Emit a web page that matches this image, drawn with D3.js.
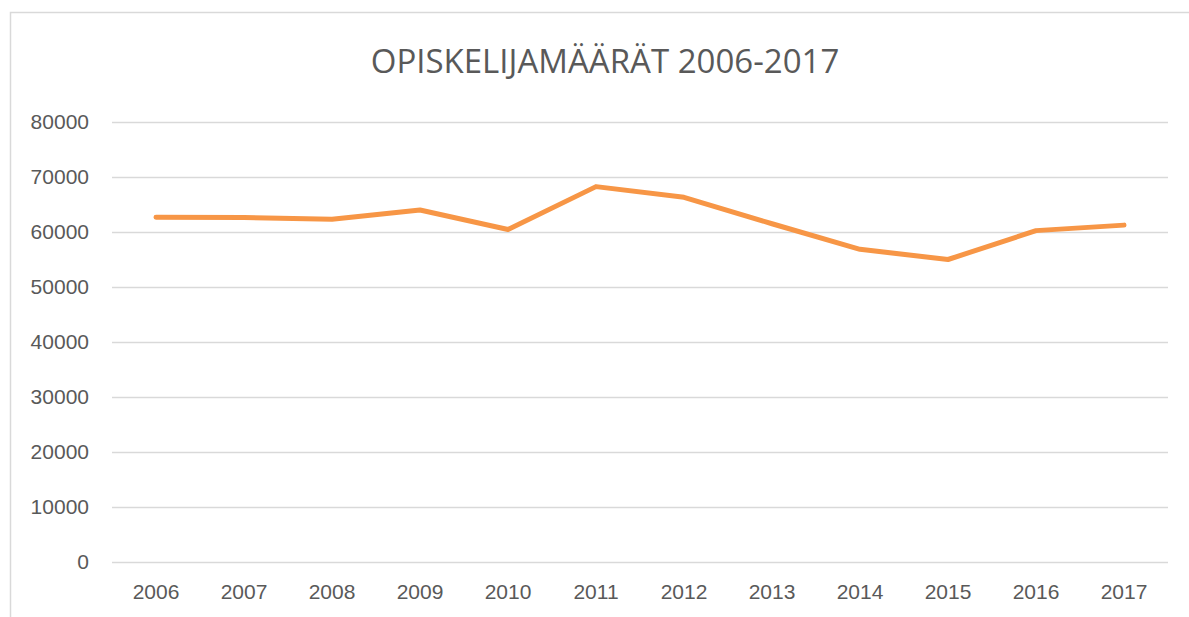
<!DOCTYPE html>
<html>
<head>
<meta charset="utf-8">
<script src="https://cdn.jsdelivr.net/npm/d3@7"></script>
<style>
  body { margin: 0; background: #fff; }
  svg { display: block; font-family: "Open Sans", sans-serif; }
</style>
</head>
<body>
<script>
const width = 1189,
  height = 617;

const years = ['2006', '2007', '2008', '2009', '2010', '2011', '2012', '2013', '2014', '2015', '2016', '2017'];
const students = [62700, 62650, 62300, 64000, 60450, 68250, 66300, 61500, 56850, 55000, 60250, 61250];
const yTicks = [0, 10000, 20000, 30000, 40000, 50000, 60000, 70000, 80000];
const title = 'OPISKELIJAMÄÄRÄT 2006-2017';

const margin = { top: 122, right: 21, bottom: 55, left: 112 };

const x = d3.scaleBand()
  .domain(years)
  .range([margin.left, width - margin.right]);

const y = d3.scaleLinear()
  .domain([0, 80000])
  .range([height - margin.bottom, margin.top]);

const svg = d3.select('body').append('svg')
  .attr('width', width)
  .attr('height', height);

// chart frame (cut off at right/bottom like the screenshot)
svg.append('rect')
  .attr('x', 10.5).attr('y', 12.5)
  .attr('width', 1300).attr('height', 800)
  .attr('fill', 'none')
  .attr('stroke', '#d9d9d9')
  .attr('stroke-width', 1.5);

svg.append('text')
  .attr('x', 605)
  .attr('y', 73)
  .attr('text-anchor', 'middle')
  .attr('fill', '#595959')
  .style('font-size', '33px')
  .text(title);

// gridlines + y labels
const yAxis = svg.append('g')
  .attr('transform', `translate(${margin.left},0)`)
  .call(d3.axisLeft(y)
    .tickValues(yTicks)
    .tickSize(-(width - margin.left - margin.right))
    .tickPadding(23)
    .tickFormat(d3.format('d')));
yAxis.select('.domain').remove();
yAxis.selectAll('.tick line')
  .attr('stroke', '#d9d9d9')
  .attr('stroke-width', 1.5);
yAxis.selectAll('.tick text')
  .attr('fill', '#595959')
  .style('font-size', '21px');

const xAxis = svg.append('g')
  .attr('transform', `translate(0,${height - margin.bottom})`)
  .call(d3.axisBottom(x).tickSize(0).tickPadding(22));
xAxis.select('.domain').remove();
xAxis.selectAll('.tick text')
  .attr('fill', '#595959')
  .style('font-size', '21px');

const line = d3.line()
  .x((d, i) => x(years[i]) + x.bandwidth() / 2)
  .y(d => y(d));

svg.append('path')
  .datum(students)
  .attr('fill', 'none')
  .attr('stroke', '#f79646')
  .attr('stroke-width', 5)
  .attr('stroke-linejoin', 'round')
  .attr('stroke-linecap', 'round')
  .attr('d', line);
</script>
</body>
</html>
